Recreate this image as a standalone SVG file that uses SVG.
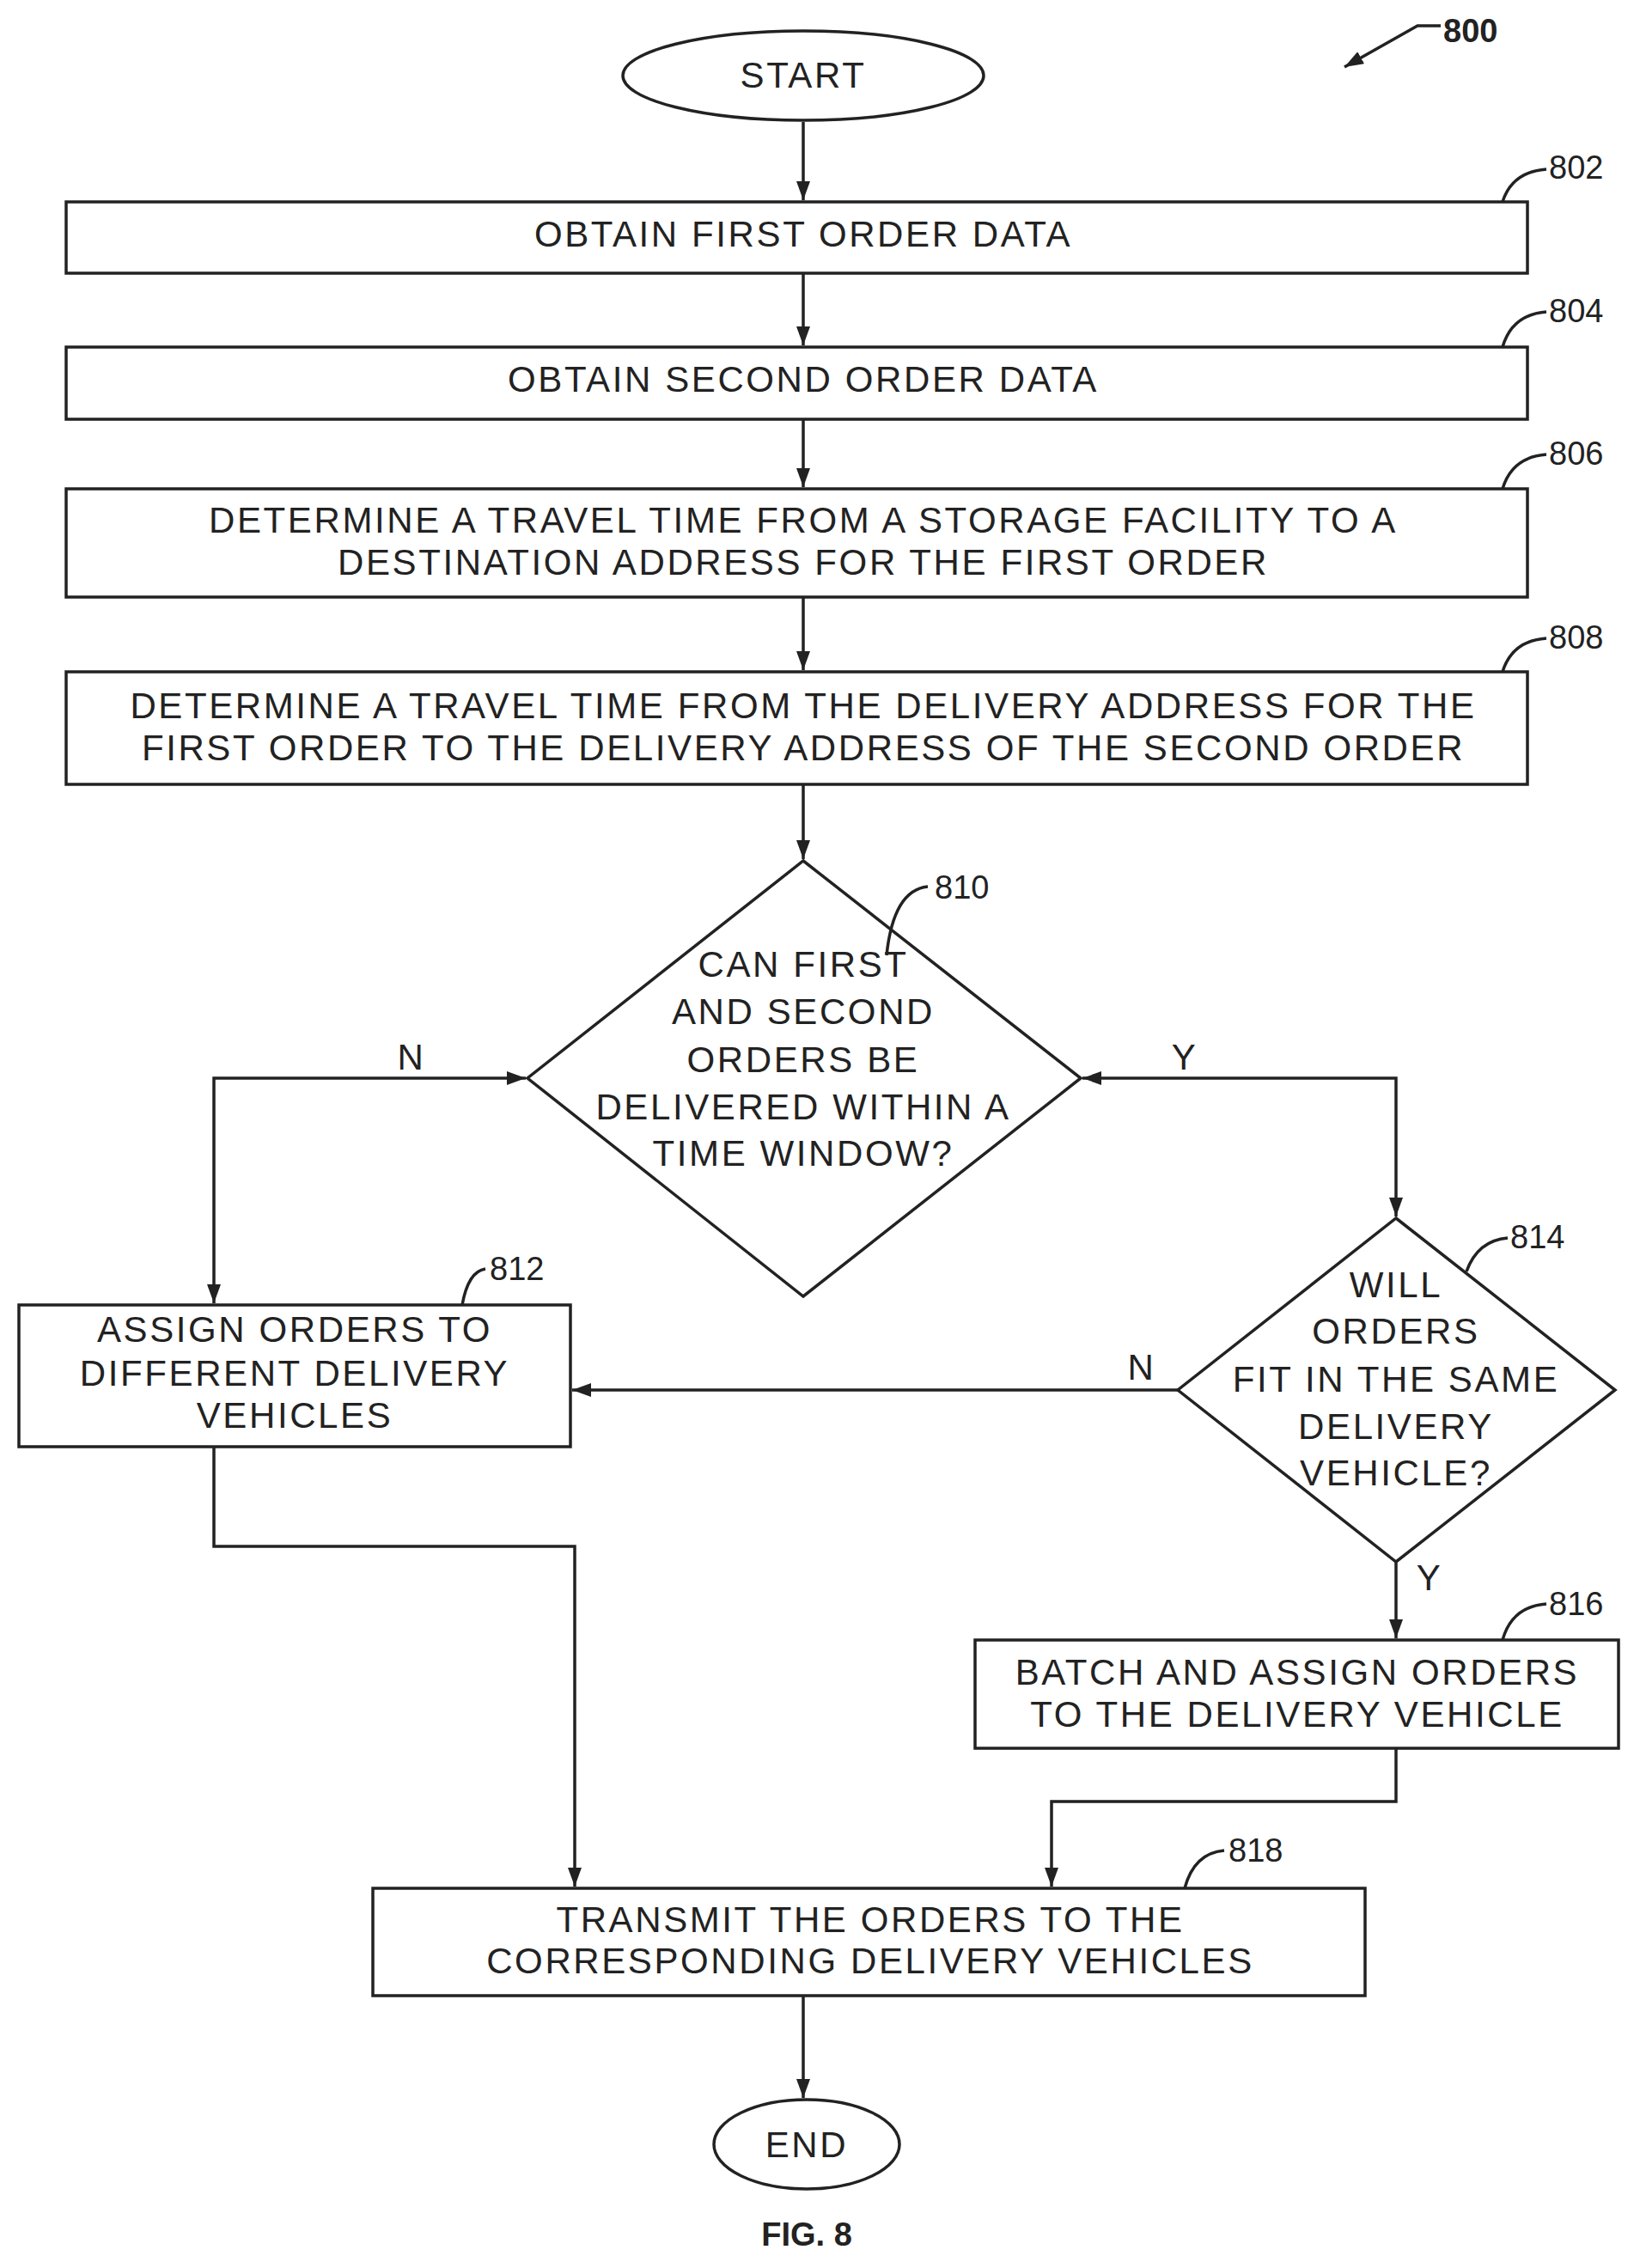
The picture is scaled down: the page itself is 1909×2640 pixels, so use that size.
<svg xmlns="http://www.w3.org/2000/svg" width="1909" height="2640" viewBox="0 0 1909 2640">
<style>
.s{fill:#fff;stroke:#222;stroke-width:3.5}
.c{fill:none;stroke:#222;stroke-width:3.5}
.t{font-family:"Liberation Sans",Arial,sans-serif;font-size:42px;letter-spacing:2.6px;fill:#222;text-anchor:middle}
.r{font-family:"Liberation Sans",Arial,sans-serif;font-size:38px;fill:#222}
</style>
<defs>
<marker id="a" viewBox="0 0 10 10" refX="10" refY="5" markerWidth="22" markerHeight="16" orient="auto-start-reverse" markerUnits="userSpaceOnUse" preserveAspectRatio="none">
<path d="M0,0 L10,5 L0,10 z" fill="#222"/>
</marker>
</defs>
<g id="connectors">
<path class="c" d="M935,142 V233" marker-end="url(#a)"/>
<path class="c" d="M935,318 V402" marker-end="url(#a)"/>
<path class="c" d="M935,488 V567" marker-end="url(#a)"/>
<path class="c" d="M935,695 V780" marker-end="url(#a)"/>
<path class="c" d="M935,913 V1000" marker-end="url(#a)"/>
<path class="c" d="M612,1255 H249 V1517" marker-start="url(#a)" marker-end="url(#a)"/>
<path class="c" d="M1260,1255 H1625 V1416" marker-start="url(#a)" marker-end="url(#a)"/>
<path class="c" d="M1371,1618 H666" marker-end="url(#a)"/>
<path class="c" d="M1625,1818 V1907" marker-end="url(#a)"/>
<path class="c" d="M249,1684 V1800 H669 V2196" marker-end="url(#a)"/>
<path class="c" d="M1625,2035 V2097 H1224 V2196" marker-end="url(#a)"/>
<path class="c" d="M935,2323 V2442" marker-end="url(#a)"/>
<text class="t" x="479" y="1245">N</text>
<text class="t" x="1379" y="1245">Y</text>
<text class="t" x="1329" y="1606">N</text>
<text class="t" x="1664" y="1851">Y</text>
</g>
<g id="start"><ellipse class="s" cx="935" cy="88" rx="210" ry="52"/><text class="t" x="935" y="102">START</text></g>
<g id="n802"><rect class="s" x="77" y="235" width="1701" height="83"/><text class="t" x="935" y="287">OBTAIN FIRST ORDER DATA</text>
<path class="c" d="M1749,235 Q1760,200 1800,197"/><text class="r" x="1803" y="208">802</text></g>
<g id="n804"><rect class="s" x="77" y="404" width="1701" height="84"/><text class="t" x="935" y="456">OBTAIN SECOND ORDER DATA</text>
<path class="c" d="M1749,404 Q1760,366 1800,363"/><text class="r" x="1803" y="375">804</text></g>
<g id="n806"><rect class="s" x="77" y="569" width="1701" height="126"/><text class="t" x="935" y="620">DETERMINE A TRAVEL TIME FROM A STORAGE FACILITY TO A</text><text class="t" x="935" y="669">DESTINATION ADDRESS FOR THE FIRST ORDER</text>
<path class="c" d="M1749,569 Q1760,532 1800,529"/><text class="r" x="1803" y="541">806</text></g>
<g id="n808"><rect class="s" x="77" y="782" width="1701" height="131"/><text class="t" x="935" y="836">DETERMINE A TRAVEL TIME FROM THE DELIVERY ADDRESS FOR THE</text><text class="t" x="935" y="885">FIRST ORDER TO THE DELIVERY ADDRESS OF THE SECOND ORDER</text>
<path class="c" d="M1749,782 Q1760,746 1800,743"/><text class="r" x="1803" y="755">808</text></g>
<g id="n810"><path class="s" d="M935,1002 L1258,1255 L935,1509 L614,1255 Z"/>
<text class="t" x="935" y="1137">CAN FIRST</text><text class="t" x="935" y="1192">AND SECOND</text><text class="t" x="935" y="1248">ORDERS BE</text><text class="t" x="935" y="1303">DELIVERED WITHIN A</text><text class="t" x="935" y="1357">TIME WINDOW?</text>
<path class="c" d="M1032,1112 Q1040,1036 1080,1032"/><text class="r" x="1088" y="1046">810</text></g>
<g id="n812"><rect class="s" x="22" y="1519" width="642" height="165"/>
<text class="t" x="343" y="1562">ASSIGN ORDERS TO</text><text class="t" x="343" y="1613">DIFFERENT DELIVERY</text><text class="t" x="343" y="1662">VEHICLES</text>
<path class="c" d="M538,1519 Q545,1480 565,1477"/><text class="r" x="570" y="1490">812</text></g>
<g id="n814"><path class="s" d="M1625,1418 L1880,1618 L1625,1818 L1371,1618 Z"/>
<text class="t" x="1625" y="1510">WILL</text><text class="t" x="1625" y="1564">ORDERS</text><text class="t" x="1625" y="1620">FIT IN THE SAME</text><text class="t" x="1625" y="1675">DELIVERY</text><text class="t" x="1625" y="1729">VEHICLE?</text>
<path class="c" d="M1707,1480 Q1720,1444 1755,1441"/><text class="r" x="1758" y="1453">814</text></g>
<g id="n816"><rect class="s" x="1135" y="1909" width="749" height="126"/>
<text class="t" x="1510" y="1961">BATCH AND ASSIGN ORDERS</text><text class="t" x="1510" y="2010">TO THE DELIVERY VEHICLE</text>
<path class="c" d="M1749,1909 Q1760,1870 1800,1867"/><text class="r" x="1803" y="1880">816</text></g>
<g id="n818"><rect class="s" x="434" y="2198" width="1155" height="125"/>
<text class="t" x="1013" y="2249">TRANSMIT THE ORDERS TO THE</text><text class="t" x="1013" y="2297">CORRESPONDING DELIVERY VEHICLES</text>
<path class="c" d="M1379,2198 Q1390,2157 1425,2154"/><text class="r" x="1430" y="2167">818</text></g>
<g id="end"><ellipse class="s" cx="939" cy="2496" rx="108" ry="52"/><text class="t" x="939" y="2511">END</text></g>
<g id="ref800"><path class="c" d="M1677,30 H1650 L1565,78" marker-end="url(#a)"/><text class="r" x="1680" y="49" font-weight="bold" font-size="40">800</text></g>
<text class="r" x="939" y="2614" text-anchor="middle" font-weight="bold">FIG. 8</text>
</svg>
